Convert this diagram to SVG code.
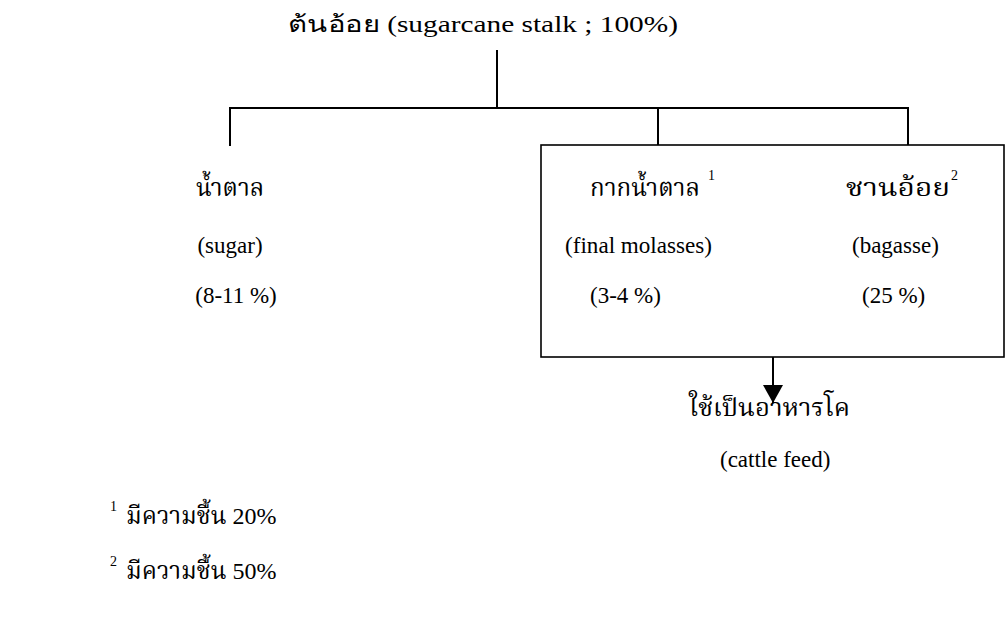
<svg xmlns="http://www.w3.org/2000/svg" width="1006" height="621" viewBox="0 0 1006 621">
<defs>
<style>
.t{font-family:"Liberation Serif","Times New Roman",serif;font-size:23px;fill:#000}
.th{font-family:"Liberation Serif","Noto Serif Thai","Noto Sans Thai",serif;font-size:24px;fill:#000}
.sup{font-family:"Liberation Serif",serif;font-size:14px;fill:#000}
.ln{stroke:#000;stroke-width:2;fill:none}
</style>
<marker id="ah" viewBox="0 0 18 20" refX="18" refY="10" markerWidth="18" markerHeight="20" markerUnits="userSpaceOnUse" orient="auto">
<path d="M0,0 L18,10 L0,20 Z" fill="#000"/>
</marker>
</defs>
<rect width="1006" height="621" fill="#fff"/>
<g id="stalk">
<text class="t" x="288" y="32" font-size="27" textLength="390" lengthAdjust="spacingAndGlyphs">ต้นอ้อย (sugarcane stalk ; 100%)</text>
</g>
<g id="connectors">
<path class="ln" d="M497,50 V108 M229,108 H908 M230,107 V146 M658,108 V145 M908,107 V145"/>
<path class="ln" d="M773,357 V403" marker-end="url(#ah)"/>
</g>
<g id="sugar">
<text class="th" x="230" y="196" text-anchor="middle">น้ำตาล</text>
<text class="t" x="230" y="253" text-anchor="middle">(sugar)</text>
<text class="t" x="236" y="303" text-anchor="middle">(8-11 %)</text>
</g>
<g id="byproducts">
<rect x="541" y="145" width="463" height="212" fill="none" stroke="#000" stroke-width="1.6"/>
<g id="molasses">
<text class="th" x="590" y="196" textLength="110" lengthAdjust="spacingAndGlyphs">กากน้ำตาล</text>
<text class="sup" x="708" y="180">1</text>
<text class="t" x="565" y="253" textLength="147" lengthAdjust="spacingAndGlyphs">(final molasses)</text>
<text class="t" x="590" y="303">(3-4 %)</text>
</g>
<g id="bagasse">
<text class="th" x="846" y="196" textLength="104" lengthAdjust="spacingAndGlyphs">ชานอ้อย</text>
<text class="sup" x="951" y="180">2</text>
<text class="t" x="852" y="253">(bagasse)</text>
<text class="t" x="862" y="303">(25 %)</text>
</g>
</g>
<g id="cattle-feed">
<text class="th" x="689" y="416" textLength="161" lengthAdjust="spacingAndGlyphs">ใช้เป็นอาหารโค</text>
<text class="t" x="720" y="467">(cattle feed)</text>
</g>
<g id="notes">
<text class="sup" x="110" y="511">1</text>
<text class="th" x="126" y="524">มีความชื้น 20%</text>
<text class="sup" x="110" y="566">2</text>
<text class="th" x="126" y="579">มีความชื้น 50%</text>
</g>
</svg>
